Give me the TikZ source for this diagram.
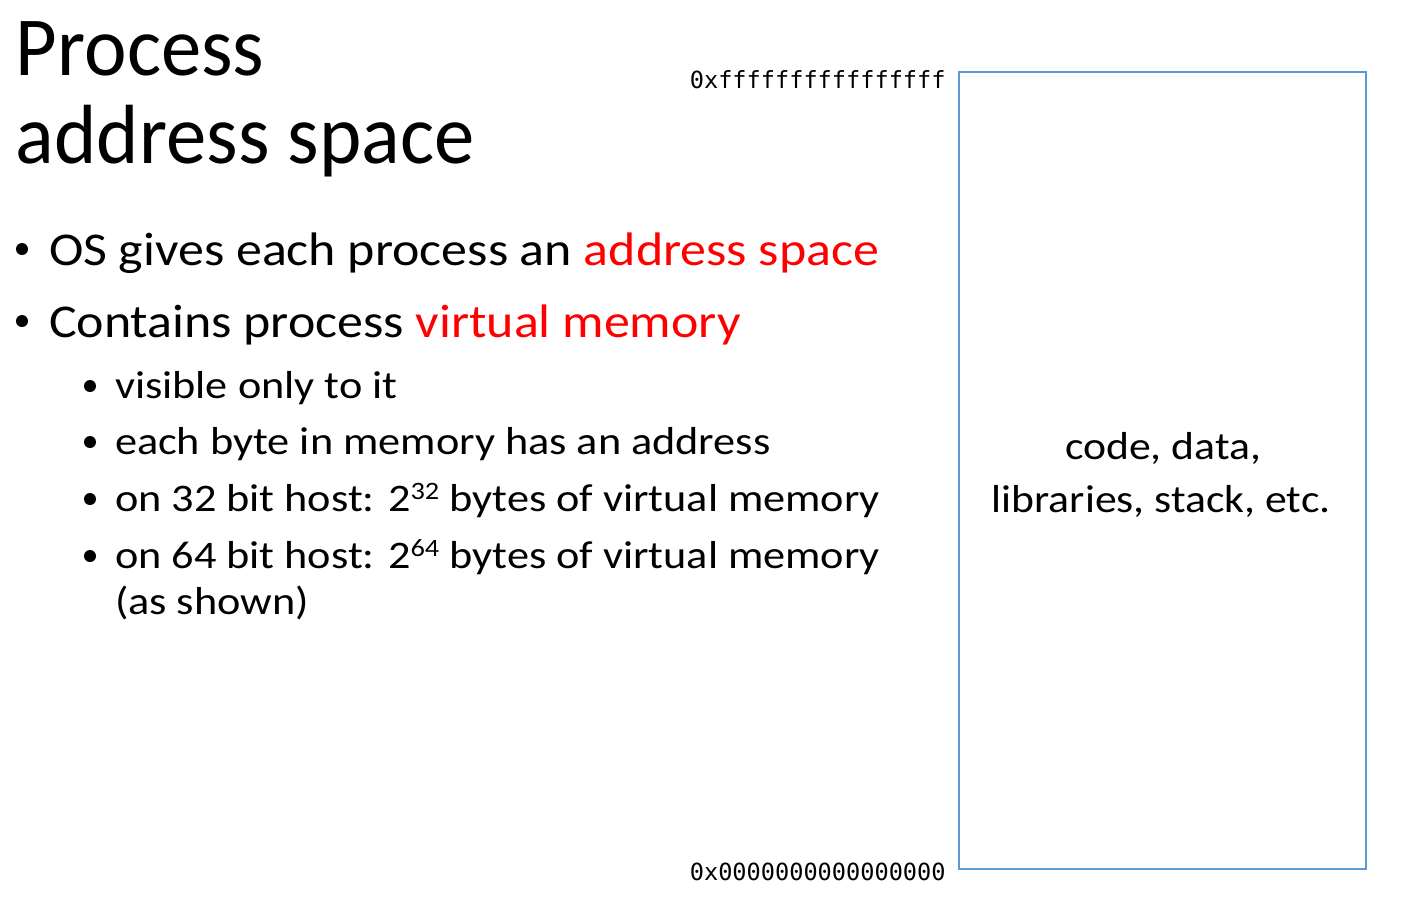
\documentclass[tikz,border=0pt]{standalone}
\usepackage{fontspec}
\setmainfont{Carlito}
\newfontfamily\titlefont[FakeStretch=0.96]{Carlito}
\newfontfamily\onefont[FakeStretch=1.105]{Carlito}
\newfontfamily\twofont[FakeStretch=1.135]{Carlito}
\newfontfamily\boxfont[FakeStretch=1.12]{Carlito}
\newfontfamily\monofont{DejaVu Sans Mono}
\newcommand\supnum[1]{\raisebox{6pt}{\fontsize{12.5}{13}\selectfont #1}}
\definecolor{boxblue}{RGB}{91,155,213}
\definecolor{hl}{RGB}{255,0,0}
\begin{document}
\begin{tikzpicture}[x=0.5pt,y=-0.5pt,
  txt/.style={anchor=base west,inner sep=0pt,outer sep=0pt},
  title/.style={txt,font=\titlefont\fontsize{42}{50}\selectfont},
  lvlone/.style={txt,font=\onefont\fontsize{23.5}{28}\selectfont},
  lvltwo/.style={txt,font=\twofont\fontsize{19.5}{23}\selectfont},
  boxtxt/.style={anchor=base,inner sep=0pt,font=\boxfont\fontsize{19.5}{23}\selectfont},
  dot/.style={circle,fill=black,inner sep=0pt,minimum size=6pt},
  addr/.style={anchor=base east,inner sep=0pt,font=\monofont\fontsize{11.8}{14}\selectfont},
  membox/.style={draw=boxblue,line width=1pt}]
\useasboundingbox (0,0) rectangle (1410,918);
\fill[white] (0,0) rectangle (1410,918);
\node[title] (t1) at (16,75) {Process};
\node[title] (t2) at (16,163) {address space};
\node[dot] (b1d) at (22,249) {};
\node[lvlone] (b1) at (49,265) {OS gives each process an \textcolor{hl}{address space}};
\node[dot] (b2d) at (22,321) {};
\node[lvlone] (b2) at (49,337) {Contains process \textcolor{hl}{virtual memory}};
\node[dot] (s1d) at (90,386) {};
\node[lvltwo] (s1) at (115,398) {visible only to it};
\node[dot] (s2d) at (90,442) {};
\node[lvltwo] (s2) at (115,454) {each byte in memory has an address};
\node[dot] (s3d) at (90,499) {};
\node[lvltwo] (s3) at (115,511) {on 32 bit host: 2\supnum{32} bytes of virtual memory};
\node[dot] (s4d) at (90,556) {};
\node[lvltwo] (s4) at (115,568) {on 64 bit host: 2\supnum{64} bytes of virtual memory};
\node[lvltwo] (s5) at (115,614) {(as shown)};
\draw[membox] (959,72) rectangle (1366,869);
\node[boxtxt] (c1) at (1163,459) {code, data,};
\node[boxtxt] (c2) at (1161,512) {libraries, stack, etc.};
\node[addr] (top) at (946,88) {0xffffffffffffffff};
\node[addr] (bot) at (946,880) {0x0000000000000000};
\end{tikzpicture}
\end{document}
